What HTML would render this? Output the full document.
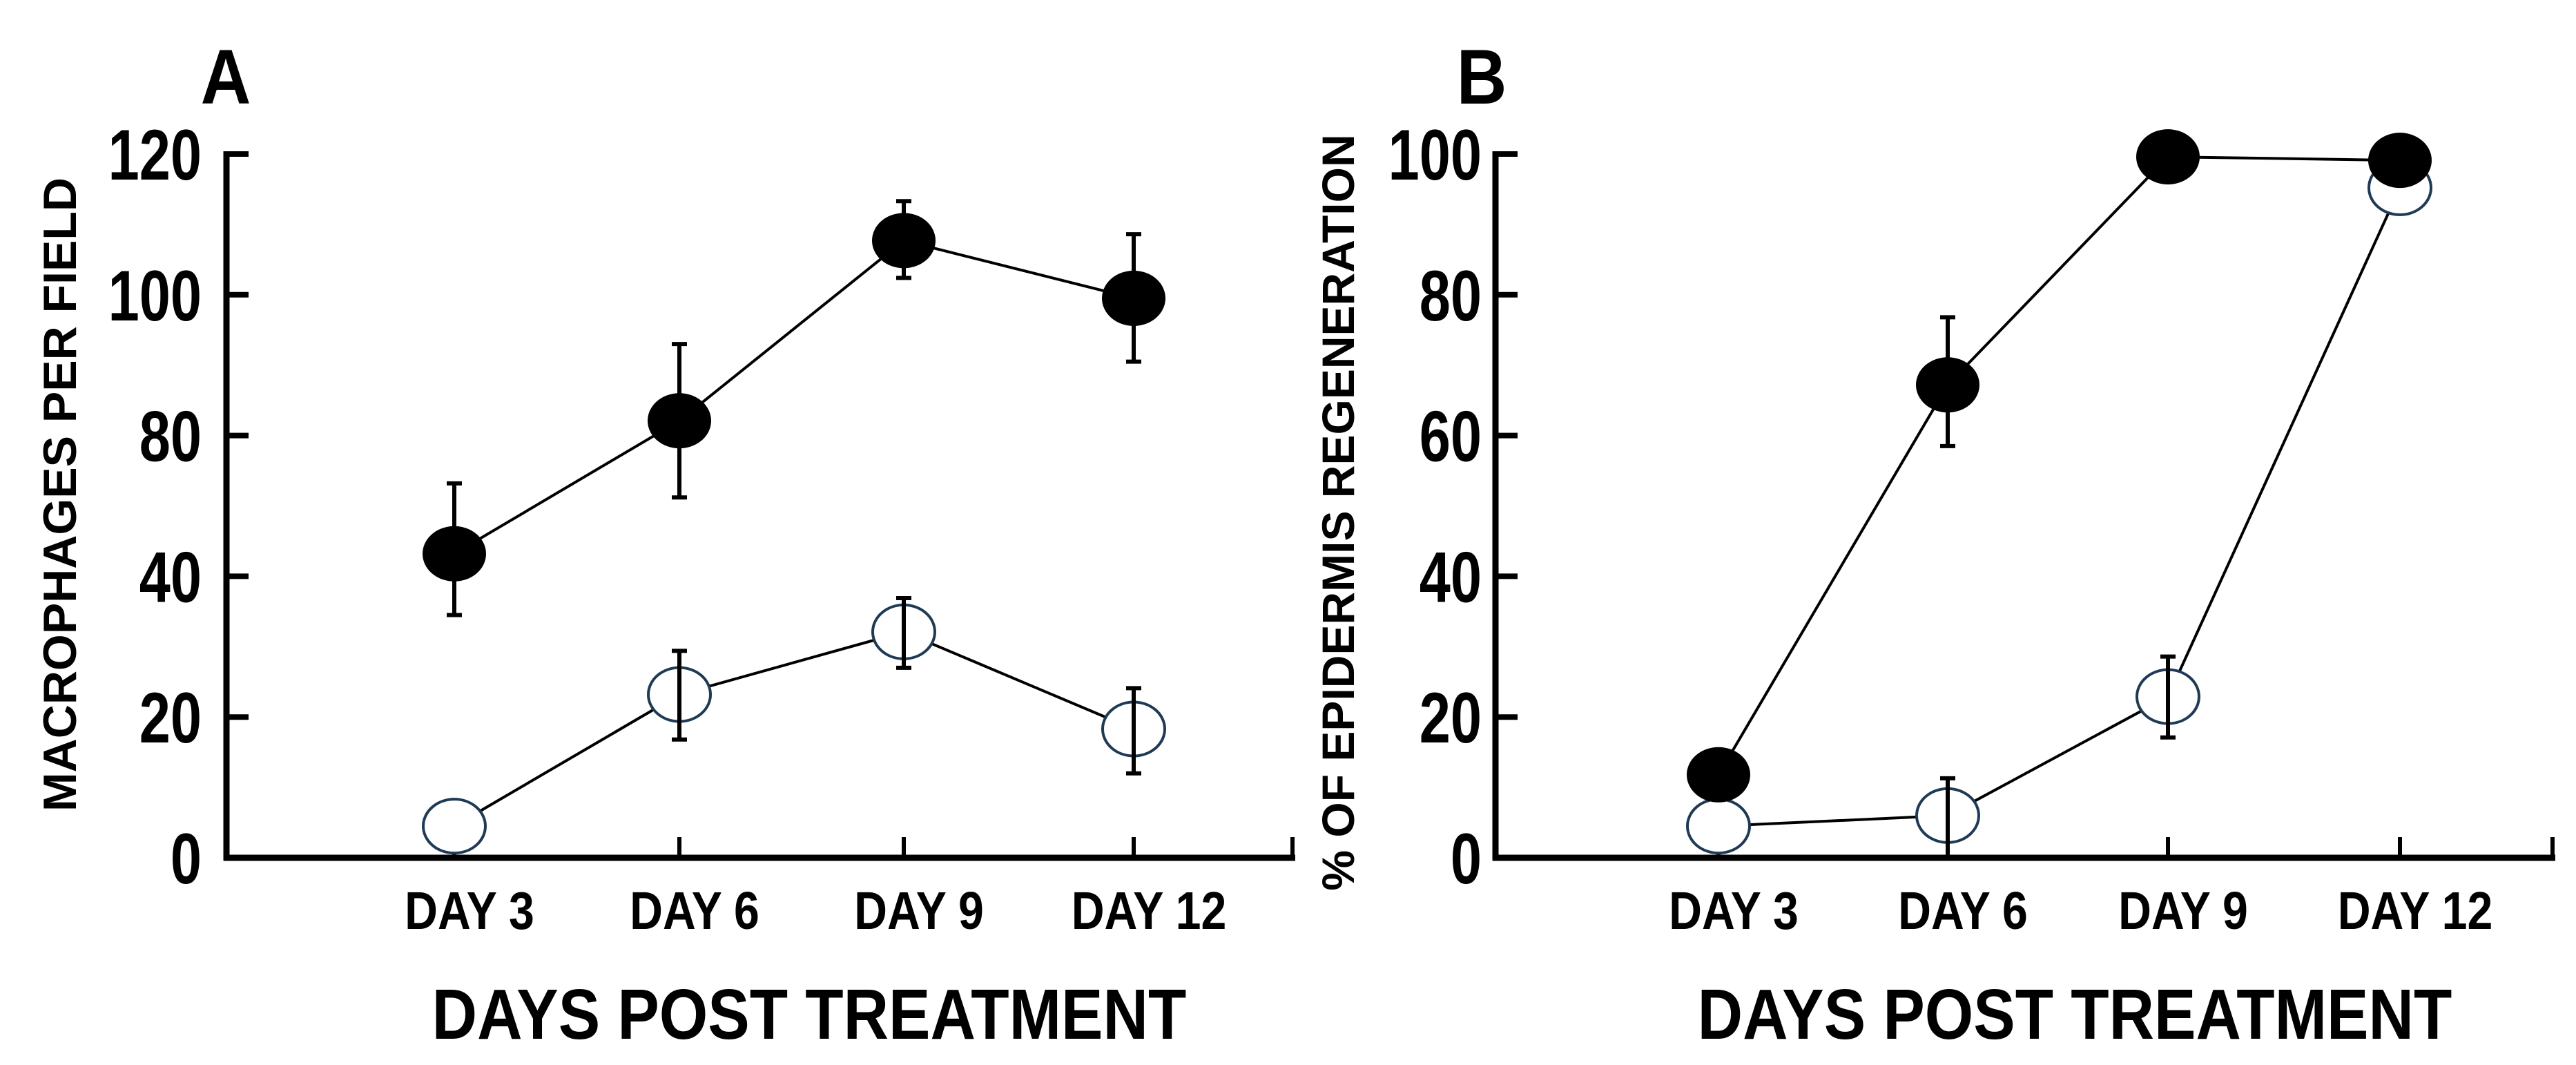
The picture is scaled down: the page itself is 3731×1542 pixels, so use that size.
<!DOCTYPE html>
<html><head><meta charset="utf-8"><style>
html,body{margin:0;padding:0;background:#fff;}
svg{display:block;}
text{font-family:"Liberation Sans",sans-serif;font-weight:bold;fill:#000;}
</style></head><body>
<svg id="chart" width="3731" height="1542" viewBox="0 0 3731 1542" xmlns="http://www.w3.org/2000/svg">
<text transform="translate(327,150) scale(0.9,1)" font-size="112" text-anchor="middle">A</text>
<text transform="translate(2146,150) scale(0.9,1)" font-size="112" text-anchor="middle">B</text>
</svg>
<script>
const categories = ["DAY 3","DAY 6","DAY 9","DAY 12"];
// Panel A (underlying scale 0..100, printed tick labels as in original)
const aTickValues = [0,20,40,60,80,100];
const aTickLabels = ["0","20","40","80","100","120"];
const aFilled = [43.2,62.1,87.7,79.5];
const aFilledHi = [53.2,73.0,93.3,88.6];
const aFilledLo = [34.5,51.2,82.4,70.5];
const aOpen = [4.5,23.2,32.1,18.3];
const aOpenHi = [null,29.4,36.9,24.1];
const aOpenLo = [null,16.8,27.0,12.0];
// Panel B
const bTickValues = [0,20,40,60,80,100];
const bTickLabels = ["0","20","40","60","80","100"];
const bFilled = [11.8,67.2,99.6,99.1];
const bFilledHi = [null,76.8,null,null];
const bFilledLo = [null,58.5,null,null];
const bOpen = [4.5,6.0,22.9,95.2];
const bOpenHi = [null,11.3,28.6,null];
const bOpenLo = [null,0,17.1,null];

const NS="http://www.w3.org/2000/svg";
const svg=document.getElementById('chart');
function mk(tag,attrs,parent){const e=document.createElementNS(NS,tag);for(const k in attrs)e.setAttribute(k,attrs[k]);(parent||svg).appendChild(e);return e;}

function panel(cfg){
  const g=mk('g',{});
  
  
  const y0=1242,yTop=223;
  const ys=v=>y0-(v/100)*(y0-yTop);
  const xs=i=>cfg.catX[i];
  const ya=mk('line',{x1:cfg.axX,y1:yTop-4,x2:cfg.axX,y2:y0+4,stroke:'#000','stroke-width':9},g);
  
  
  const xa=mk('line',{x1:cfg.axX-4,y1:y0,x2:cfg.axEnd,y2:y0,stroke:'#000','stroke-width':9},g);
  
  
  cfg.ticks.forEach((v,i)=>{
    const t=mk('line',{x1:cfg.axX,y1:ys(v),x2:cfg.axX+32,y2:ys(v),stroke:'#000','stroke-width':8},g);
    
    
    const l=mk('text',{transform:`translate(${cfg.lblX},${ys(v)+37}) scale(0.78,1)`,'font-size':104,'text-anchor':'end'},g);
    l.textContent=cfg.tickLabels[i];
    
    
  });
  const xt=[...cfg.catX,cfg.axEnd-4];
  xt.forEach(x=>{
    const t=mk('line',{x1:x,y1:y0,x2:x,y2:y0-30,stroke:'#000','stroke-width':6},g);
    
    
  });
  categories.forEach((c,i)=>{
    const l=mk('text',{transform:`translate(${xs(i)+22},1345) scale(0.86,1)`,'font-size':77,'text-anchor':'middle'},g);
    l.textContent=c;
    
    
  });
  const xt2=mk('text',{transform:`translate(${cfg.titleX},1504) scale(0.88,1)`,'font-size':103,'text-anchor':'middle'},g);
  xt2.textContent='DAYS POST TREATMENT';
  
  
  const yt=mk('text',{x:0,y:0,'font-size':cfg.ytSize,'text-anchor':'middle',transform:`translate(${cfg.ytX},${cfg.ytY}) rotate(-90)`},g);
  yt.textContent=cfg.yTitle;
  
  

  function series(vals,hi,lo,filled,nm){
    const pts=vals.map((v,i)=>xs(i)+','+ys(v)).join(' ');
    const pl=mk('polyline',{points:pts,fill:'none',stroke:'#000','stroke-width':4},g);
    
    
    vals.forEach((v,i)=>{
      const e=mk('ellipse',{cx:xs(i),cy:ys(v),rx:45,ry:39,fill:filled?'#000':'#fff',stroke:filled?'#000':'#1f3a55','stroke-width':filled?2:4},g);
      
      
      if(hi[i]!=null){
        const eb=mk('path',{d:`M${xs(i)},${ys(hi[i])}V${ys(lo[i])}M${xs(i)-11},${ys(hi[i])}h22M${xs(i)-11},${ys(lo[i])}h22`,stroke:'#000','stroke-width':6,fill:'none'},g);
        
        
      }
    });
  }
  series(cfg.open,cfg.openHi,cfg.openLo,false,'open-series');
  series(cfg.filled,cfg.filledHi,cfg.filledLo,true,'filled-series');
}

panel({name:'panel-a',axX:328,axEnd:1876,catX:[658,984,1309,1642],lblX:292,ticks:aTickValues,tickLabels:aTickLabels,
  titleX:1172,yTitle:'MACROPHAGES PER FIELD',ytX:110,ytY:716,ytSize:68,
  filled:aFilled,filledHi:aFilledHi,filledLo:aFilledLo,open:aOpen,openHi:aOpenHi,openLo:aOpenLo});
panel({name:'panel-b',axX:2166,axEnd:3701,catX:[2489,2821,3140,3476],lblX:2146,ticks:bTickValues,tickLabels:bTickLabels,
  titleX:3005,yTitle:'% OF EPIDERMIS REGENERATION',ytX:1961,ytY:742,ytSize:66,
  filled:bFilled,filledHi:bFilledHi,filledLo:bFilledLo,open:bOpen,openHi:bOpenHi,openLo:bOpenLo});
</script>
</body></html>
